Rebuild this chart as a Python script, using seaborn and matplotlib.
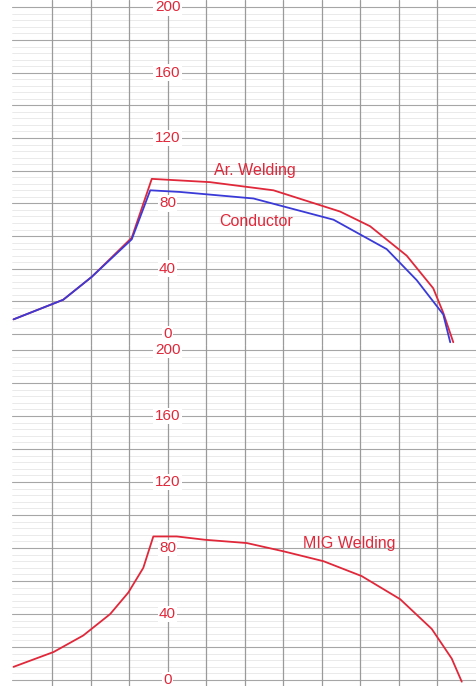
import numpy as np
import pandas as pd
import matplotlib
matplotlib.use("Agg")
import matplotlib.pyplot as plt
import seaborn as sns

# ---- data ----
ar_x = [0, 1.29, 2.03, 3.07, 3.59, 5.10, 6.75, 8.48, 9.26, 10.21, 10.90, 11.16, 11.42]
ar_y = [9, 21, 35, 59, 95, 93, 88, 75, 66, 48, 28, 13, -5]

cond_x = [0, 1.29, 2.03, 3.07, 3.55, 4.32, 6.23, 8.31, 9.69, 10.47, 11.16, 11.34]
cond_y = [9, 21, 35, 58, 88, 87, 83, 70, 52, 33, 12, -5]

mig_x = [0, 1.04, 1.81, 2.51, 2.98, 3.37, 3.63, 4.24, 4.97, 6.06, 7.01, 8.05, 9.04, 10.04, 10.86, 11.38, 11.64]
mig_y = [8, 17, 27, 40, 53, 68, 87, 87, 85, 83, 78, 72, 63, 49, 31, 13, -1]

y_ticks = [0, 40, 80, 120, 160, 200]
y_tick_labels = ["0", "40", "80", "120", "160", "200"]

RED = "#e0283a"
BLUE = "#3a3ad8"

sns.set_style("white")
plt.rcParams["font.family"] = ["Liberation Sans", "DejaVu Sans"]

W, H = 476, 686
fig = plt.figure(figsize=(W / 100, H / 100), dpi=100)

split = 345
ax_top = fig.add_axes([12 / W, (H - split) / H, 1 - 12 / W, split / H])
ax_bot = fig.add_axes([12 / W, 0, 1 - 12 / W, (H - split) / H])


def draw_grid(ax):
    for v in np.arange(0, 201, 4):
        if v % 20 == 0:
            ax.axhline(v, color="#a6a6a6", lw=0.8, zorder=0)
        else:
            ax.axhline(v, color="#e2e2e2", lw=0.5, zorder=0)
    for gx in range(1, 12):
        ax.axvline(gx, color="#9a9a9a", lw=0.9, zorder=0)
    for v, lab in zip(y_ticks, y_tick_labels):
        ax.text(4.0, v, lab, ha="center", va="center", fontsize=11, color=RED,
                zorder=5, bbox=dict(facecolor="white", edgecolor="none", pad=1.0))
    ax.set_xticks([])
    ax.set_yticks([])
    for s in ax.spines.values():
        s.set_visible(False)
    ax.set_xlim(-0.04, 12.01)


# top panel
df_top = pd.DataFrame({
    "x": ar_x + cond_x,
    "y": ar_y + cond_y,
    "series": ["Ar. Welding"] * len(ar_x) + ["Conductor"] * len(cond_x),
})
draw_grid(ax_top)
sns.lineplot(data=df_top, x="x", y="y", hue="series", palette={"Ar. Welding": RED, "Conductor": BLUE},
             sort=False, estimator=None, lw=1.3, legend=False, ax=ax_top, zorder=3)
ax_top.set_ylim(-6.7, 204.5)
ax_top.set_xlabel("")
ax_top.set_ylabel("")
ax_top.text(6.27, 100, "Ar. Welding", color=RED, fontsize=11.5, ha="center", va="center", zorder=6)
ax_top.text(6.3, 69, "Conductor", color=RED, fontsize=11.5, ha="center", va="center", zorder=6)

# bottom panel
df_bot = pd.DataFrame({"x": mig_x, "y": mig_y})
draw_grid(ax_bot)
sns.lineplot(data=df_bot, x="x", y="y", color=RED, sort=False, estimator=None, lw=1.3,
             ax=ax_bot, zorder=3)
ax_bot.set_ylim(-3.6, 203)
ax_bot.set_xlabel("")
ax_bot.set_ylabel("")
ax_bot.text(8.71, 83, "MIG Welding", color=RED, fontsize=11.5, ha="center", va="center", zorder=6)

fig.savefig("out.png", dpi=100)
